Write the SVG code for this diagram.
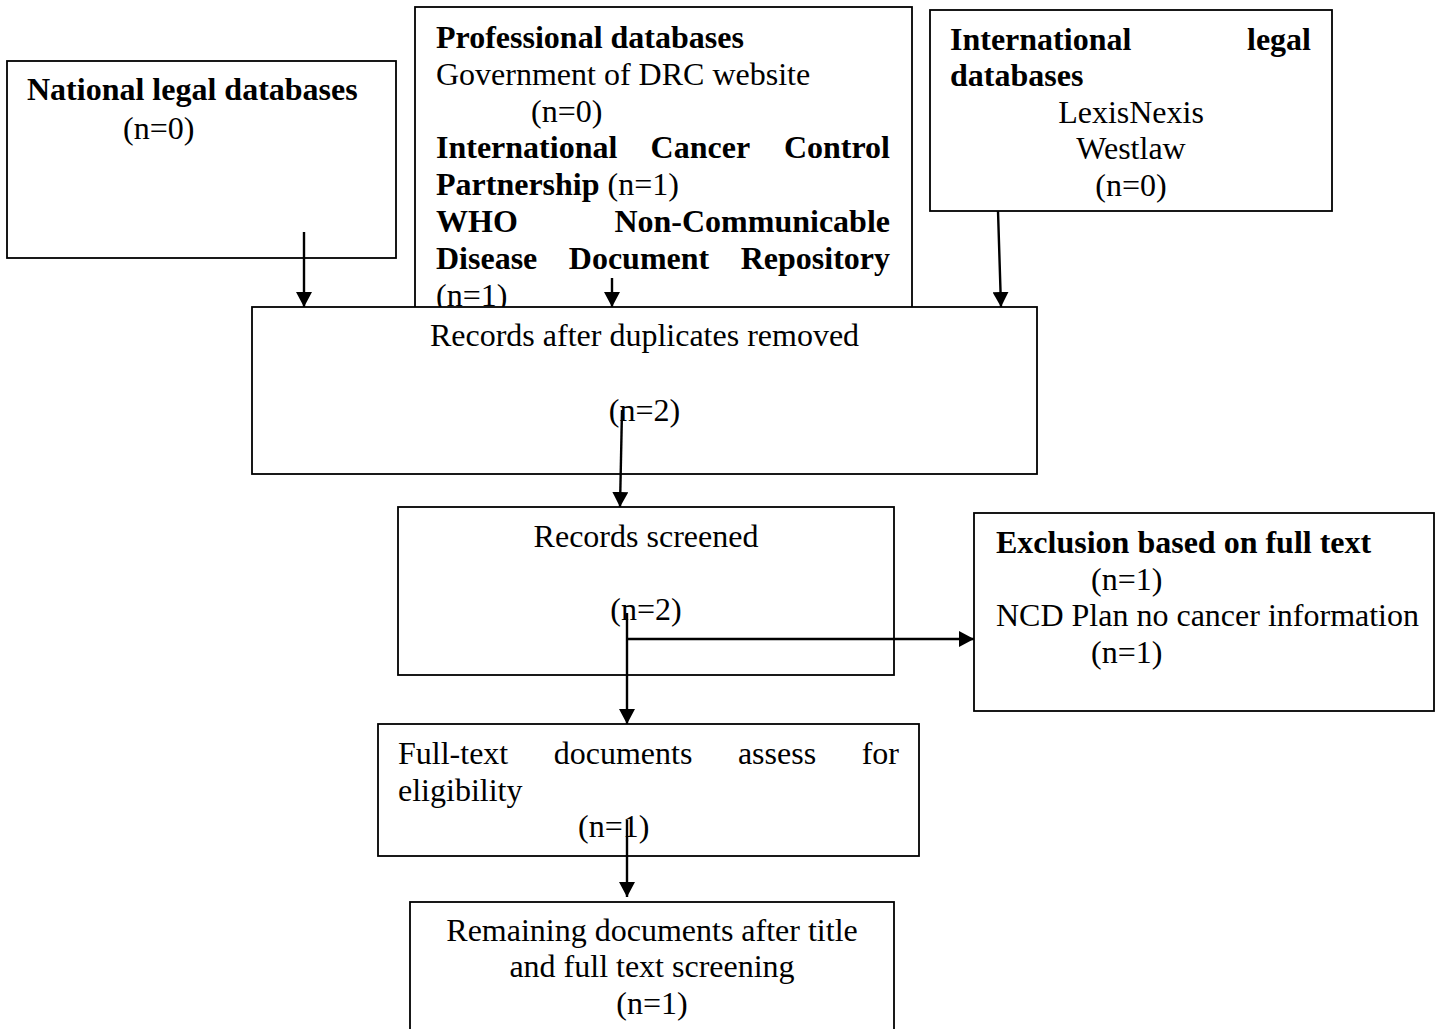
<svg xmlns="http://www.w3.org/2000/svg" width="1439" height="1029" viewBox="0 0 1439 1029">
  <style>
    .box { fill: #ffffff; stroke: #000000; stroke-width: 1.8; }
    text { font-family: "Liberation Serif", "Times New Roman", serif; font-size: 32px; fill: #000000; }
    .b { font-weight: bold; }
    .c { text-anchor: middle; }
    .e { text-anchor: end; }
    .wire { fill: none; stroke: #000000; stroke-width: 2.4; }
  </style>
  <defs>
    <marker id="head" markerUnits="userSpaceOnUse" markerWidth="16" markerHeight="16" refX="15" refY="8" orient="auto">
      <path d="M0,0 L15,8 L0,16 Z" fill="#000000"/>
    </marker>
  </defs>

  <rect width="1439" height="1029" fill="#ffffff"/>

  <!-- Source: national legal databases -->
  <g id="national">
    <rect class="box" x="7" y="61" width="389" height="197"/>
    <text class="b" x="27" y="100">National legal databases</text>
    <text x="123" y="139">(n=0)</text>
  </g>

  <!-- Source: professional databases (lower edge runs under the next box) -->
  <g id="professional">
    <rect class="box" x="415" y="7" width="497" height="320"/>
    <text class="b" x="436" y="48">Professional databases</text>
    <text x="436" y="84.8">Government of DRC website</text>
    <text x="531" y="121.6">(n=0)</text>
    <text class="b" x="436" y="158.4">International</text>
    <text class="b" x="650.6" y="158.4">Cancer</text>
    <text class="b e" x="890" y="158.4">Control</text>
    <text x="436" y="195.2"><tspan class="b">Partnership</tspan> (n=1)</text>
    <text class="b" x="436" y="232">WHO</text>
    <text class="b e" x="890" y="232">Non-Communicable</text>
    <text class="b" x="436" y="268.8">Disease</text>
    <text class="b" x="568.8" y="268.8">Document</text>
    <text class="b e" x="890" y="268.8">Repository</text>
    <text x="436" y="305.6">(n=1)</text>
  </g>

  <!-- Source: international legal databases -->
  <g id="international">
    <rect class="box" x="930" y="10" width="402" height="201"/>
    <text class="b" x="950" y="49.5">International</text>
    <text class="b e" x="1311" y="49.5">legal</text>
    <text class="b" x="950" y="86">databases</text>
    <text class="c" x="1131" y="122.5">LexisNexis</text>
    <text class="c" x="1131" y="159">Westlaw</text>
    <text class="c" x="1131" y="195.5">(n=0)</text>
  </g>

  <!-- Deduplicated records -->
  <g id="deduplicated">
    <rect class="box" x="252" y="307" width="785" height="167"/>
    <text class="c" x="644.5" y="346">Records after duplicates removed</text>
    <text class="c" x="644.5" y="421">(n=2)</text>
  </g>

  <!-- Screening -->
  <g id="screened">
    <rect class="box" x="398" y="507" width="496" height="168"/>
    <text class="c" x="646" y="547">Records screened</text>
    <text class="c" x="646" y="620">(n=2)</text>
  </g>

  <!-- Exclusions -->
  <g id="exclusion">
    <rect class="box" x="974" y="513" width="460" height="198"/>
    <text class="b" x="996" y="553">Exclusion based on full text</text>
    <text x="1091" y="589.5">(n=1)</text>
    <text x="996" y="626">NCD Plan no cancer information</text>
    <text x="1091" y="662.5">(n=1)</text>
  </g>

  <!-- Eligibility -->
  <g id="fulltext">
    <rect class="box" x="378" y="724" width="541" height="132"/>
    <text x="398" y="764">Full-text</text>
    <text x="553.7" y="764">documents</text>
    <text x="737.9" y="764">assess</text>
    <text class="e" x="899" y="764">for</text>
    <text x="398" y="800.5">eligibility</text>
    <text x="578" y="837">(n=1)</text>
  </g>

  <!-- Included -->
  <g id="remaining">
    <rect class="box" x="410" y="902" width="484" height="140"/>
    <text class="c" x="652" y="940.5">Remaining documents after title</text>
    <text class="c" x="652" y="977">and full text screening</text>
    <text class="c" x="652" y="1013.5">(n=1)</text>
  </g>

  <!-- Connectors -->
  <g id="connectors">
    <line class="wire" x1="304" y1="232" x2="304" y2="307" marker-end="url(#head)"/>
    <line class="wire" x1="612" y1="278" x2="612" y2="307" marker-end="url(#head)"/>
    <line class="wire" x1="998" y1="211" x2="1001" y2="307" marker-end="url(#head)"/>
    <line class="wire" x1="622" y1="410" x2="620" y2="507" marker-end="url(#head)"/>
    <line class="wire" x1="627" y1="613" x2="627" y2="724" marker-end="url(#head)"/>
    <line class="wire" x1="626" y1="639" x2="974" y2="639" marker-end="url(#head)"/>
    <line class="wire" x1="627" y1="820" x2="627" y2="897" marker-end="url(#head)"/>
  </g>
</svg>
